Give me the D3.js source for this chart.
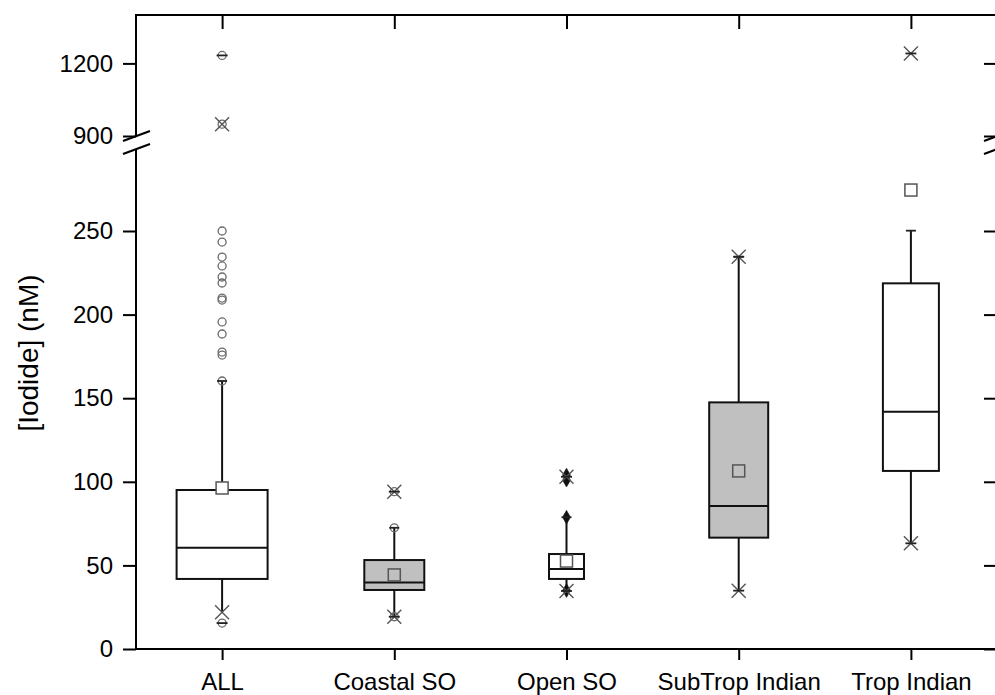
<!DOCTYPE html>
<html>
<head>
<meta charset="utf-8">
<script src="https://cdn.jsdelivr.net/npm/d3@7"></script>
<style>
  html, body { margin: 0; padding: 0; background: #fff; }
  svg { display: block; font-family: "Liberation Sans", Arial, sans-serif; }
</style>
</head>
<body>
<svg id="chart" width="995" height="695"></svg>
<script>
// ---------------- DATA ----------------
const categories = ["ALL", "Coastal SO", "Open SO", "SubTrop Indian", "Trop Indian"];
const q1 = [41.9, 35.3, 41.9, 66.6, 106.5];
const medians = [60.6, 39.7, 47.8, 85.5, 141.9];
const q3 = [95.1, 53.2, 56.8, 147.5, 218.7];
const means = [96.3, 44.3, 52.6, 106.5, 274.5];
const whiskerLow = [22, 19.3, 34.7, 34.9, 63.2];
const whiskerHigh = [160.3, 72.5, 78.8, 234.6, 250.2];
const pct1 = [22, 19.3, 34.7, 34.9, 63.2];
const pct99 = [949, 94.1, 103, 234.6, 1241];
const minVals = [15.5, 19.3, 34.7, 34.9, 63.2];
const maxVals = [1233, 94.1, 103, 234.6, 1241];
const circleOutliers = [
  [250, 243.4, 234.4, 229.1, 222.5, 218.9, 209.9, 208.7, 195.6, 188.4, 177.6, 175.8, 160.3, 15.5, 949, 1233],
  [94.1, 72.5, 19.3],
  [],
  [],
  []
];
const diamondOutliers = [[], [], [104, 101, 78.8, 35], [], []];
const yTickValues = [0, 50, 100, 150, 200, 250, 900, 1200];
const yLabel = "[Iodide] (nM)";

// ---------------- STYLE ----------------
const boxWidths = [91, 60, 35, 59, 56];
const boxFills = ["#ffffff", "#c0c0c0", "#ffffff", "#c0c0c0", "#ffffff"];
const meanFills = ["#ffffff", "#c0c0c0", "#ffffff", "#c0c0c0", "#ffffff"];
const L = 136, R = 997, T = 15, B = 649;
const FONT = 24;

const svg = d3.select("#chart");

const x = d3.scalePoint().domain(categories).range([L, R]).padding(0.5);
// broken axis: 0–300 on the lower part, 900–1400 on the upper part
const y = d3.scaleLinear().domain([0, 300, 900, 1400]).range([B, 147.4, 136, T]);

const data = categories.map((c, i) => ({
  c, i, q1: q1[i], med: medians[i], q3: q3[i], mean: means[i],
  wl: whiskerLow[i], wh: whiskerHigh[i], p1: pct1[i], p99: pct99[i],
  mn: minVals[i], mx: maxVals[i]
}));

// ---------------- AXES ----------------
// left
const gL = svg.append("g").attr("transform", `translate(${L},0)`)
  .call(d3.axisLeft(y).tickValues(yTickValues).tickFormat(d3.format("d")).tickSize(13).tickPadding(10));
gL.select(".domain").remove();
gL.selectAll(".tick line").attr("stroke", "#000").attr("stroke-width", 2);
gL.selectAll(".tick text").attr("font-size", FONT).attr("fill", "#000")
  .attr("font-family", "Liberation Sans, Arial, sans-serif");

// right (inward ticks, no labels)
const gR = svg.append("g").attr("transform", `translate(${R},0)`)
  .call(d3.axisRight(y).tickValues(yTickValues).tickSize(-13).tickFormat(""));
gR.select(".domain").remove();
gR.selectAll(".tick line").attr("stroke", "#000").attr("stroke-width", 2);

// bottom
const gB = svg.append("g").attr("transform", `translate(0,${B})`)
  .call(d3.axisBottom(x).tickSize(11).tickPadding(13));
gB.select(".domain").remove();
gB.selectAll(".tick line").attr("stroke", "#000").attr("stroke-width", 2);
gB.selectAll(".tick text").attr("font-size", FONT).attr("fill", "#000")
  .attr("font-family", "Liberation Sans, Arial, sans-serif");

// top (inward ticks)
const gT = svg.append("g").attr("transform", `translate(0,${T})`)
  .call(d3.axisTop(x).tickSize(-14).tickFormat(""));
gT.select(".domain").remove();
gT.selectAll(".tick line").attr("stroke", "#000").attr("stroke-width", 2);

// frame lines (broken vertical axes)
const frame = svg.append("g").attr("stroke", "#000").attr("stroke-width", 2).attr("fill", "none");
frame.append("line").attr("x1", L - 1).attr("x2", R + 1).attr("y1", T).attr("y2", T);
frame.append("line").attr("x1", L - 1).attr("x2", R + 1).attr("y1", B).attr("y2", B);
[L, R].forEach(ax => {
  frame.append("line").attr("x1", ax).attr("x2", ax).attr("y1", T - 1).attr("y2", 137);
  frame.append("line").attr("x1", ax).attr("x2", ax).attr("y1", 149).attr("y2", B + 1);
  // break marks
  frame.append("line").attr("x1", ax - 13).attr("y1", 141).attr("x2", ax + 14).attr("y2", 131).attr("stroke-width", 2.2);
  frame.append("line").attr("x1", ax - 13).attr("y1", 154).attr("x2", ax + 14).attr("y2", 144).attr("stroke-width", 2.2);
});

// y label
svg.append("text")
  .attr("transform", `translate(38,353) rotate(-90)`)
  .attr("text-anchor", "middle")
  .attr("font-size", 28)
  .attr("fill", "#000")
  .text(yLabel);

// ---------------- BOXES ----------------
const g = svg.append("g");
const boxes = g.selectAll("g.box").data(data).join("g").attr("class", "box");

// whiskers
boxes.append("line")
  .attr("x1", d => x(d.c)).attr("x2", d => x(d.c))
  .attr("y1", d => y(d.q3)).attr("y2", d => y(d.wh))
  .attr("stroke", "#111").attr("stroke-width", 2);
boxes.append("line")
  .attr("x1", d => x(d.c)).attr("x2", d => x(d.c))
  .attr("y1", d => y(d.q1)).attr("y2", d => y(d.wl))
  .attr("stroke", "#111").attr("stroke-width", 2);

// box
boxes.append("rect")
  .attr("x", d => x(d.c) - boxWidths[d.i] / 2)
  .attr("width", d => boxWidths[d.i])
  .attr("y", d => y(d.q3))
  .attr("height", d => y(d.q1) - y(d.q3))
  .attr("fill", d => boxFills[d.i])
  .attr("stroke", "#111").attr("stroke-width", 2);

// median
boxes.append("line")
  .attr("x1", d => x(d.c) - boxWidths[d.i] / 2).attr("x2", d => x(d.c) + boxWidths[d.i] / 2)
  .attr("y1", d => y(d.med)).attr("y2", d => y(d.med))
  .attr("stroke", "#111").attr("stroke-width", 2);

// circle outliers
data.forEach(d => {
  g.selectAll(null).data(circleOutliers[d.i]).join("circle")
    .attr("cx", x(d.c)).attr("cy", v => y(v)).attr("r", 4)
    .attr("fill", "none").attr("stroke", "#6a6a6a").attr("stroke-width", 1.3);
});

// diamonds
const diamond = d3.symbol().type(d3.symbolDiamond).size(55);
data.forEach(d => {
  g.selectAll(null).data(diamondOutliers[d.i]).join("path")
    .attr("d", diamond)
    .attr("transform", v => `translate(${x(d.c)},${y(v)})`)
    .attr("fill", "#111").attr("stroke", "#111").attr("stroke-width", 0.5);
});

// X markers at 1% / 99%
function drawX(cx, cy) {
  const s = 7;
  g.append("path")
    .attr("d", `M${cx - s},${cy - s}L${cx + s},${cy + s}M${cx - s},${cy + s}L${cx + s},${cy - s}`)
    .attr("stroke", "#555").attr("stroke-width", 1.4).attr("fill", "none");
}
data.forEach(d => { drawX(x(d.c), y(d.p1)); drawX(x(d.c), y(d.p99)); });

// dashes at min / max and whisker caps
function drawDash(cx, cy, w) {
  g.append("line").attr("x1", cx - w / 2).attr("x2", cx + w / 2)
    .attr("y1", cy).attr("y2", cy).attr("stroke", "#222").attr("stroke-width", 1.8);
}
data.forEach(d => {
  drawDash(x(d.c), y(d.mn), 11);
  drawDash(x(d.c), y(d.mx), 11);
  drawDash(x(d.c), y(d.wh), 10);
});

// mean squares
boxes.append("rect")
  .attr("x", d => x(d.c) - 6).attr("y", d => y(d.mean) - 6)
  .attr("width", 12).attr("height", 12)
  .attr("fill", d => meanFills[d.i])
  .attr("stroke", "#555").attr("stroke-width", 1.5);
</script>
</body>
</html>
